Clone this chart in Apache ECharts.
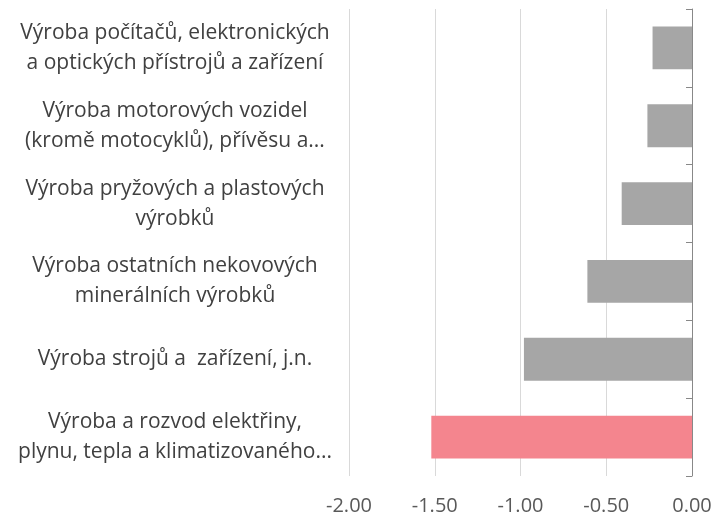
<!DOCTYPE html>
<html>
<head>
<meta charset="utf-8">
<script src="https://cdn.jsdelivr.net/npm/echarts@6/dist/echarts.min.js"></script>
<style>
  html, body { margin: 0; padding: 0; background: #fff; }
  #chart { width: 719px; height: 521px; }
</style>
</head>
<body>
<div id="chart"></div>
<script>
// categories, top to bottom as in the picture
var categories = [
    'Výroba počítačů, elektronických\na optických přístrojů a zařízení',
    'Výroba motorových vozidel\n(kromě motocyklů), přívěsu a...',
    'Výroba pryžových a plastových\nvýrobků',
    'Výroba ostatních nekovových\nminerálních výrobků',
    'Výroba strojů a  zařízení, j.n.',
    'Výroba a rozvod elektřiny,\nplynu, tepla a klimatizovaného...'
];
var values = [-0.23, -0.26, -0.41, -0.61, -0.98, -1.52];
var highlightIndex = 5;

var chartDom = document.getElementById('chart');
var myChart = echarts.init(chartDom);

var font = '"Open Sans", sans-serif';

var option = {
    animation: false,
    grid: {
        left: 349,
        right: 27,
        top: 9,
        bottom: 45,
        containLabel: false
    },
    xAxis: {
        type: 'value',
        min: -2,
        max: 0,
        interval: 0.5,
        axisLine: { show: false },
        axisTick: { show: false },
        splitLine: { show: true, lineStyle: { color: '#d9d9d9', width: 1 } },
        axisLabel: {
            margin: 20,
            color: '#595959',
            fontFamily: font,
            fontSize: 20,
            formatter: function (v) { return v.toFixed(2); }
        }
    },
    yAxis: [
        {
            // labels on the left side
            type: 'category',
            inverse: true,
            data: categories,
            position: 'left',
            axisLine: { show: false },
            axisTick: { show: false },
            axisLabel: {
                margin: 4,
                formatter: function (v) {
                    return v.split('\n').map(function (s) { return '{c|' + s + '}'; }).join('\n');
                },
                rich: {
                    c: {
                        width: 340,
                        align: 'center',
                        color: '#404040',
                        fontFamily: font,
                        fontSize: 21,
                        lineHeight: 30
                    }
                }
            }
        },
        {
            // axis line at zero, on the right
            type: 'category',
            inverse: true,
            data: categories,
            position: 'right',
            axisLine: { show: true, lineStyle: { color: '#888888', width: 1 } },
            axisTick: { show: true, inside: true, length: 6, lineStyle: { color: '#888888' } },
            axisLabel: { show: false }
        }
    ],
    series: [
        {
            type: 'bar',
            barCategoryGap: '45%',
            data: values.map(function (v, i) {
                return {
                    value: v,
                    itemStyle: { color: i === highlightIndex ? '#f4858e' : '#a6a6a6' }
                };
            })
        }
    ]
};

myChart.setOption(option);
</script>
</body>
</html>
